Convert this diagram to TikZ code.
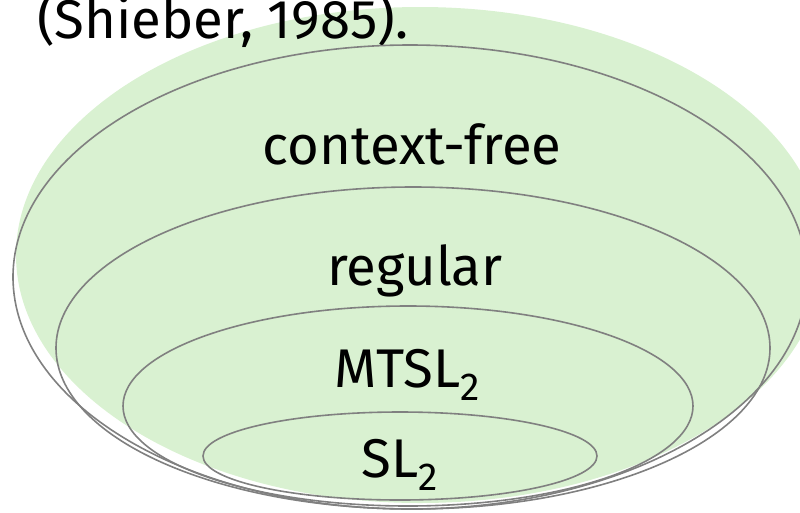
\documentclass[tikz,border=0pt]{standalone}
\usepackage{fontspec}
\setmainfont{Fira Sans}
\usetikzlibrary{positioning}
\definecolor{HierGreen}{HTML}{D9F1D1}
\definecolor{HierGray}{HTML}{808080}
\newcommand\lowidx[1]{\raisebox{-.24em}{\fontsize{39pt}{39pt}\selectfont #1}}

\begin{document}
\begin{tikzpicture}[
  x=1pt, y=-1pt,
  ring/.style={draw=HierGray, line width=1.6pt},
  classlabel/.style={anchor=base, inner sep=0pt, font=\fontsize{54.5pt}{60pt}\selectfont}
]
\useasboundingbox (0,0) rectangle (800,512);
\fill[HierGreen] (420,255) ellipse [x radius=404, y radius=248];
\node[classlabel, anchor=base west] (cite) at (37,38) {(Shieber, 1985).};
% nested language classes
\draw[ring] (410,277) ellipse [x radius=397, y radius=232];
\draw[ring] (413,348) ellipse [x radius=357, y radius=161];
\draw[ring] (408,406) ellipse [x radius=285, y radius=100];
\draw[ring] (400,456) ellipse [x radius=197, y radius=44];
\node[classlabel] (cf) at (412,164) {context-free};
\node[classlabel] (reg) at (415,285) {regular};
\node[classlabel] (mtsl) at (407,387) {MTSL\lowidx{2}};
\node[classlabel] (sl) at (400,477) {SL\lowidx{2}};
\end{tikzpicture}
\end{document}
